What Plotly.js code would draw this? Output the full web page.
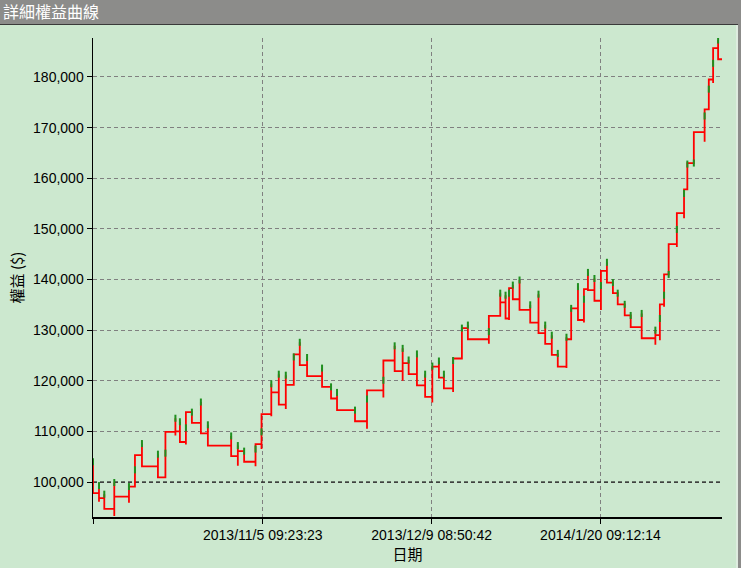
<!DOCTYPE html>
<html>
<head>
<meta charset="utf-8">
<script src="https://cdn.plot.ly/plotly-3.0.1.min.js"></script>
<style>
  html, body { margin: 0; padding: 0; background: #cce8cf; }
  #chart { width: 741px; height: 568px; }
</style>
</head>
<body>
<div id="chart"></div>
<script>
// ---- data ----
const initialCapital = 100000;
// trade position along the x axis
const tradePos = [0, 6, 11.3, 21.3, 36, 42, 49, 65, 72.5, 82.5, 87, 93, 99, 108, 115, 138.3, 145, 151.3, 162.7, 168.7,
  178.5, 186, 193, 201, 207, 214.3, 229.3, 238.3, 244.3, 262.3, 274.3, 290.7, 302, 310, 316, 324.3, 332.5, 339.7, 346.3, 351.3,
  360.5, 369.3, 375.3, 396.3, 407.7, 413, 416.5, 420.3, 427, 437.7, 446, 452.7, 459.3, 465.3, 474, 478.7, 485.5, 491.5, 495.5, 502,
  508.5, 514.5, 520.5, 525.3, 532.3, 538.3, 549.3, 563, 567.5, 571.7, 576.3, 584.5, 591.7, 595, 601.5, 612.3, 616.5, 620.8, 625.8];
const tradeHigh = [104000, 99300, 97600, 99900, 99100, 102400, 107600, 105500, 105700, 112600, 111900, 110700, 113800, 115800, 111300, 109100, 107200, 106100, 106500, 109900,
  119400, 121300, 121100, 124700, 127600, 124600, 122500, 118800, 117700, 114200, 116400, 120100, 126900, 126400, 124100, 125300, 121300, 122900, 123900, 121300,
  124000, 130400, 131000, 129700, 137300, 136900, 137300, 138900, 139900, 135000, 137100, 131000, 129000, 125400, 128600, 134300, 138600, 136100, 141400, 140200,
  138800, 143400, 139400, 137300, 135100, 132900, 133300, 130000, 132300, 136900, 141000, 149900, 157000, 162800, 163000, 172300, 177600, 182700, 187300];
const tradeLow = [97800, 96100, 94700, 93300, 95900, 100900, 103100, 100900, 102900, 109200, 107900, 107400, 111700, 109600, 107200, 105100, 103200, 104000, 103100, 106500,
  113000, 116500, 114400, 119200, 123400, 121500, 118800, 116500, 114200, 112000, 110500, 116700, 122500, 120000, 121300, 119800, 116800, 115700, 120600, 118500,
  117800, 124400, 128200, 127300, 134100, 132300, 132000, 136100, 134600, 131700, 130600, 127700, 125100, 122800, 122500, 128200, 134300, 131500, 137900, 136000,
  134000, 140700, 138100, 135100, 132900, 130600, 128400, 127100, 128000, 134600, 141000, 146400, 152100, 158200, 163000, 167200, 176900, 178800, 183700];
const tradeEquity = [97800, 96800, 94700, 97100, 99100, 105300, 103100, 100900, 109900, 110000, 107900, 113800, 111700, 109600, 107200, 105100, 106100, 104000, 107500, 113400,
  117700, 115300, 119200, 125200, 123100, 120900, 118800, 116500, 114200, 112000, 118100, 124000, 121900, 123500, 121300, 119100, 116800, 122800, 120600, 118500,
  124400, 130400, 128200, 132800, 135500, 132300, 138300, 136100, 134000, 131500, 129400, 127300, 125100, 122800, 128200, 134300, 132000, 138100, 137900, 135800,
  141700, 139400, 137300, 135100, 132900, 130600, 128400, 129000, 135100, 141000, 147000, 153100, 157800, 163000, 169100, 173600, 179500, 185700, 183500];
const lastPos = 629.7;
const xTickPos = [0, 170, 339, 508];
const xTickText = ['', '2013/11/5 09:23:23', '2013/12/9 08:50:42', '2014/1/20 09:12:14'];

// ---- build step path ----
const lx = [], ly = [];
for (let i = 0; i < tradePos.length; i++) {
  lx.push(tradePos[i], tradePos[i], tradePos[i]);
  ly.push(tradeHigh[i], tradeLow[i], tradeEquity[i]);
}
lx.push(lastPos); ly.push(tradeEquity[tradeEquity.length - 1]);

const red = '#ff0000', green = '#1f8f1f';
const traces = [
  { x: [0, lastPos], y: [initialCapital, initialCapital], mode: 'lines', hoverinfo: 'skip',
    line: { color: '#000000', width: 1.2, dash: '4px,3px' } },
  { x: lx, y: ly, mode: 'lines', line: { color: red, width: 1.8, shape: 'hv' }, hoverinfo: 'skip' },
  { x: tradePos, y: tradeHigh, mode: 'markers', hoverinfo: 'skip',
    marker: { symbol: 'line-ns', size: 5, line: { color: green, width: 2 } } }
];

const W = 741, H = 568, L = 93, R = 19, T = 38, B = 51;
const pw = W - L - R, ph = H - T - B;
const py = p => (H - B - p) / ph;   // pixel row -> paper y
const px = p => (p - L) / pw;       // pixel col -> paper x
const layout = {
  width: W, height: H,
  margin: { l: L, r: R, t: T, b: B, pad: 0 },
  paper_bgcolor: '#cce8cf', plot_bgcolor: '#cce8cf',
  showlegend: false,
  font: { family: 'Liberation Sans, Arial, sans-serif', size: 14, color: '#000' },
  title: { text: '詳細權益曲線', x: 3 / W, xanchor: 'left', xref: 'container',
           y: 1 - 12.5 / H, yanchor: 'middle', yref: 'container',
           font: { family: 'Noto Sans CJK TC, sans-serif', size: 16, color: '#ffffff' } },
  xaxis: {
    range: [0, lastPos], tickmode: 'array', tickvals: xTickPos, ticktext: xTickText,
    showgrid: true, gridcolor: '#808080', griddash: '4px,3px', gridwidth: 1,
    showline: true, linecolor: '#000', linewidth: 1.5,
    ticks: 'outside', ticklen: 5, tickcolor: '#000', zeroline: false,
    tickfont: { family: 'Liberation Sans, Arial, sans-serif', size: 14 },
    title: { text: '日期', standoff: 4, font: { family: 'Noto Sans CJK TC, sans-serif', size: 15 } }
  },
  yaxis: {
    range: [93090, 187700], dtick: 10000, tick0: 0, tickformat: ',d',
    showgrid: true, gridcolor: '#808080', griddash: '4px,3px', gridwidth: 1,
    showline: true, linecolor: '#000', linewidth: 1.5,
    ticks: 'outside', ticklen: 5, tickcolor: '#000', zeroline: false,
    tickfont: { family: 'Liberation Sans, Arial, sans-serif', size: 14 },
    title: { text: '權益 ($)', standoff: 6, font: { family: 'Noto Sans CJK TC, sans-serif', size: 15 } }
  },
  shapes: [
    { type: 'rect', xref: 'paper', yref: 'paper', layer: 'below',
      x0: px(0), x1: px(W), y0: py(25), y1: py(0),
      fillcolor: '#8c8c8a', line: { width: 0 } },
    { type: 'line', xref: 'paper', yref: 'paper',
      x0: px(0), x1: px(W), y0: py(24.5), y1: py(24.5),
      line: { color: '#3a3a3a', width: 1 } },
    { type: 'rect', xref: 'paper', yref: 'paper',
      x0: px(738), x1: px(W), y0: py(H), y1: py(0),
      fillcolor: '#8c8c8a', line: { width: 0 } },
    { type: 'line', xref: 'paper', yref: 'paper',
      x0: px(737), x1: px(737), y0: py(H), y1: py(25),
      line: { color: '#f0f0f0', width: 1 } }
  ]
};

Plotly.newPlot('chart', traces, layout, { displayModeBar: false, staticPlot: true });
</script>
</body>
</html>
